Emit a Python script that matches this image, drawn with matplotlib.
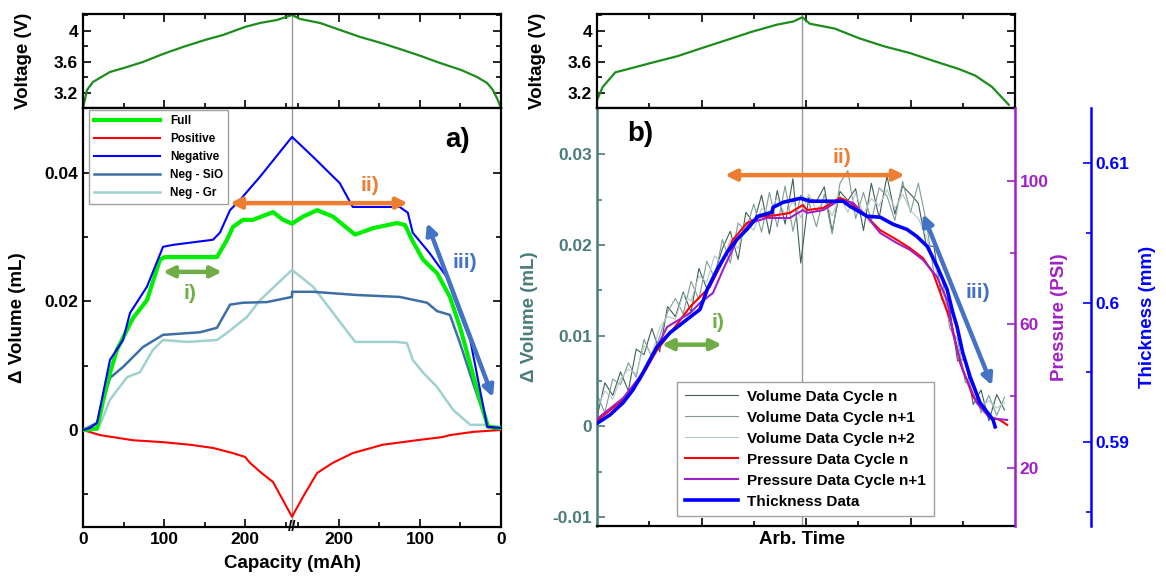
import numpy as np
import matplotlib
matplotlib.use("Agg")
import matplotlib.pyplot as plt
from matplotlib.transforms import blended_transform_factory

plt.rcParams['font.family'] = ['Liberation Sans', 'DejaVu Sans']
plt.rcParams['font.weight'] = 'bold'
plt.rcParams['axes.labelweight'] = 'bold'
plt.rcParams['xtick.direction'] = 'in'
plt.rcParams['ytick.direction'] = 'in'
plt.rcParams['xtick.major.size'] = 5.5
plt.rcParams['ytick.major.size'] = 5.5
plt.rcParams['xtick.minor.size'] = 3.5
plt.rcParams['ytick.minor.size'] = 3.5
plt.rcParams['xtick.major.width'] = 1.2
plt.rcParams['ytick.major.width'] = 1.2
plt.rcParams['xtick.minor.width'] = 1.2
plt.rcParams['ytick.minor.width'] = 1.2
plt.rcParams['axes.linewidth'] = 1.6

# ---------------- data : panel a ----------------
charge_capacity = 258  # mAh at end of charge (break point)
cap_tick_values = [0, 100, 200]

volt_a_t = [0, 5, 12.3, 33.3, 50.6, 74, 98.8, 123.5, 150.6, 172.8, 200, 218.5, 239.5, 258,
            267.9, 292.6, 317.3, 342, 368, 391, 417, 440.7, 466.7, 486.4, 498.8, 506, 512, 516]
volt_a_v = [3.006, 3.239, 3.342, 3.471, 3.523, 3.6, 3.703, 3.794, 3.884, 3.948, 4.052, 4.103, 4.142, 4.206,
            4.155, 4.103, 4.013, 3.923, 3.845, 3.768, 3.677, 3.587, 3.497, 3.406, 3.329, 3.239, 3.110, 3.006]

neg_t = [0, 8.6, 17.3, 33.3, 49.4, 58, 79, 98.8, 111, 160.5, 169, 181.5, 193.8, 218.5, 258,
         284, 317, 333, 391, 401, 407, 428, 449, 465, 478, 499, 516]
neg_v = [0, 0.0003, 0.0011, 0.0109, 0.0140, 0.0182, 0.0223, 0.0285, 0.0288, 0.0296, 0.0307, 0.0342,
         0.0358, 0.0394, 0.0456, 0.0425, 0.0384, 0.0347, 0.0347, 0.0338, 0.0307, 0.0275, 0.0238,
         0.0182, 0.0140, 0.0005, 0.0003]

full_t = [0, 17.3, 29.6, 42, 61.7, 79, 95, 101, 165.4, 177.8, 185.2, 197.5, 209.9, 234.6, 247, 258,
          271.6, 289, 308.6, 335.8, 358, 387.7, 397.5, 406, 419.8, 437, 453, 465.4, 490, 500, 516]
full_v = [0, 0.0002, 0.0073, 0.0125, 0.0174, 0.0202, 0.0265, 0.0269, 0.0269, 0.0296, 0.0316, 0.0327,
          0.0327, 0.0339, 0.0327, 0.0321, 0.0332, 0.0342, 0.0332, 0.0304, 0.0314, 0.0322, 0.0319,
          0.0296, 0.0265, 0.0244, 0.0207, 0.0160, 0.0047, 0.0005, 0.0003]

sio_t = [0, 17.3, 33.3, 49.4, 74, 98.8, 144.4, 165.4, 181.5, 197.5, 227, 258,
         258, 284, 338, 391, 424.7, 437, 453, 465.4, 481.5, 500, 516]
sio_v = [0, 0.0011, 0.0081, 0.0098, 0.0129, 0.0148, 0.0152, 0.0159, 0.0195, 0.0198, 0.0199, 0.0207,
         0.0215, 0.0215, 0.0210, 0.0207, 0.0198, 0.0185, 0.0179, 0.0135, 0.0073, 0.0005, 0.0003]

gr_t = [0, 21, 33.3, 54.3, 70.4, 86.4, 98.8, 128.4, 165.4, 177.8, 202.5, 218.5, 258,
        284, 336, 388, 400, 407, 420, 437, 457, 478, 494, 516]
gr_v = [0, 0.0008, 0.0047, 0.0082, 0.0090, 0.0125, 0.0140, 0.0137, 0.0140, 0.0151, 0.0176, 0.0202,
        0.0249, 0.0223, 0.0137, 0.0137, 0.0135, 0.0109, 0.0089, 0.0067, 0.0031, 0.0008, 0.0008, 0.0003]

pos_t = [0, 21, 61.7, 98.8, 132, 160.5, 185, 200, 206, 218.5, 234.6, 258,
         271.6, 289, 308.6, 333, 370, 412, 444, 453, 481.5, 516]
pos_v = [0, -0.0008, -0.0016, -0.0019, -0.0023, -0.0028, -0.0036, -0.0042, -0.0051, -0.0065, -0.0081,
         -0.0135, -0.0104, -0.0067, -0.0051, -0.0036, -0.0023, -0.0016, -0.0011, -0.0008, -0.0003, 0]

# ---------------- data : panel b ----------------
peak_time = 3.93

volt_b_T = [0.0, 0.11, 0.35, 0.59, 1.06, 1.54, 2.01, 2.49, 2.96, 3.44, 3.76, 3.93, 4.07, 4.55,
            5.02, 5.50, 5.98, 6.45, 6.93, 7.24, 7.56, 7.88]
volt_b_v = [3.11, 3.278, 3.466, 3.508, 3.592, 3.675, 3.78, 3.885, 3.989, 4.081, 4.123, 4.177, 4.094,
            4.031, 3.905, 3.801, 3.717, 3.612, 3.508, 3.424, 3.278, 3.048]

vol_T = np.linspace(0, 7.8, 53)
vol_n = np.array([1.0, 4.8, 3.4, 6.0, 3.9, 8.5, 7.9, 10.8, 8.2, 13.2, 12.1, 14.8, 12.6, 17.4, 15.2,
                  16.8, 19.6, 21.5, 18.4, 23.6, 22.4, 25.5, 21.2, 26.0, 22.3, 27.3, 18.0, 25.2, 24.8,
                  26.4, 21.5, 25.9, 24.9, 26.2, 21.6, 26.8, 23.0, 27.6, 23.4, 26.5, 25.6, 24.6, 20.0,
                  19.8, 14.0, 13.1, 7.2, 7.4, 2.4, 4.0, 0.6, 3.5, 1.8]) / 1000
vol_n1 = np.array([3.5, 1.5, 5.2, 4.6, 7.0, 5.4, 9.6, 7.6, 9.9, 12.6, 14.1, 12.4, 16.0, 14.0, 18.2,
                   16.4, 20.6, 18.0, 22.4, 21.6, 24.5, 21.4, 25.8, 22.0, 26.5, 21.5, 25.5, 24.8, 22.0,
                   25.6, 21.2, 26.8, 28.2, 22.9, 25.8, 22.6, 26.3, 25.4, 22.7, 27.0, 23.6, 26.8, 22.6,
                   16.8, 16.6, 10.8, 9.6, 4.8, 4.9, 1.5, 3.4, 1.2, 3.2]) / 1000
vol_n2 = np.array([2.0, 3.9, 3.0, 5.2, 6.3, 5.8, 8.9, 8.0, 10.9, 12.1, 11.8, 14.6, 13.8, 16.6, 15.9,
                   18.8, 18.0, 20.6, 19.6, 22.5, 21.6, 24.0, 23.6, 25.2, 23.3, 24.8, 23.0, 25.6, 23.8,
                   24.9, 23.2, 25.4, 23.6, 25.7, 23.4, 25.1, 24.3, 26.1, 24.0, 25.6, 23.8, 22.9, 21.0,
                   18.0, 15.0, 11.6, 8.8, 5.6, 4.2, 2.3, 2.8, 2.0, 2.6]) / 1000

pres_n_T = [0.02, 0.50, 0.82, 1.15, 1.45, 1.78, 2.16, 2.35, 2.60, 2.87, 3.12, 3.44, 3.69, 3.94, 4.02,
            4.33, 4.65, 4.84, 5.09, 5.42, 5.74, 5.99, 6.24, 6.43, 6.62, 6.76, 6.81, 6.95, 7.20, 7.52,
            7.71, 7.85]
pres_n = [33.4, 39.0, 44.5, 52.9, 58.5, 64.9, 70.5, 76.0, 83.6, 88.3, 90.0, 90.5, 91.1, 93.3, 91.9,
          92.5, 95.3, 94.1, 91.1, 86.3, 83.6, 81.3, 78.5, 74.4, 66.8, 61.3, 58.5, 49.3, 39.8, 34.2,
          33.4, 32.0]

pres_n1_T = [0.02, 0.50, 0.88, 1.15, 1.34, 1.78, 1.97, 2.22, 2.41, 2.68, 2.93, 3.25, 3.69, 3.94, 4.02,
             4.33, 4.65, 4.90, 5.17, 5.42, 5.74, 5.99, 6.24, 6.51, 6.70, 6.81, 7.00, 7.27, 7.52, 7.85]
pres_n1 = [33.9, 39.5, 46.5, 53.7, 59.3, 63.2, 66.0, 68.8, 75.2, 83.6, 88.3, 89.7, 89.7, 91.9, 91.1,
           91.9, 94.7, 93.9, 90.0, 85.5, 82.7, 80.8, 78.0, 73.2, 66.8, 57.6, 47.3, 38.1, 33.9, 33.4]

thick_T = [0.02, 0.25, 0.50, 0.69, 0.88, 1.15, 1.40, 1.72, 1.97, 2.11, 2.30, 2.49, 2.68, 2.87, 3.08,
           3.35, 3.37, 3.56, 3.89, 4.08, 4.71, 4.84, 5.17, 5.42, 5.67, 5.93, 6.12, 6.32, 6.51, 6.70,
           6.81, 6.89, 7.00, 7.14, 7.33, 7.58, 7.62]
thick = [0.59137, 0.59194, 0.59281, 0.59374, 0.59496, 0.59683, 0.59784, 0.59878, 0.59950, 0.60094,
         0.60237, 0.60360, 0.60453, 0.60525, 0.60619, 0.60647, 0.60683, 0.60719, 0.60748, 0.60727,
         0.60727, 0.60691, 0.60619, 0.60612, 0.60561, 0.60525, 0.60475, 0.60403, 0.60259, 0.60094,
         0.59928, 0.59827, 0.59640, 0.59468, 0.59281, 0.59158, 0.59108]

# ---------------- styles ----------------
C_VOLT = '#1c8c1c'
C_FULL = '#00ee00'
C_POS = '#ff0000'
C_NEG = '#0000ff'
C_SIO = '#3d6fa6'
C_GR = '#9fd1d1'
C_GRAY = '#9a9a9a'
C_VOLAX = '#4a7c79'
C_PRES = '#a020c8'
C_THK = '#0000ff'
C_VN, C_VN1, C_VN2 = '#3f5f5a', '#7f9c97', '#b3c9c5'
C_I, C_II, C_III = '#70ad47', '#ed7d31', '#4472c4'

W, H = 1166, 581
fig = plt.figure(figsize=(W / 100, H / 100), dpi=100)


def rect(l, t, r, b):
    return [l / W, 1 - b / H, (r - l) / W, (b - t) / H]


TL = 12.5   # tick label size
LB = 13.5   # axis label size

# ================= panel a =================
axVa = fig.add_axes(rect(83, 14, 501, 108))
axA = fig.add_axes(rect(83, 108, 501, 527))
tmax = 2 * charge_capacity
cap_pos = cap_tick_values + [tmax - c for c in reversed(cap_tick_values)]
cap_lab = [str(c) for c in cap_tick_values] + [str(c) for c in reversed(cap_tick_values)]
cap_minor = [50, 150, 250, tmax - 250, tmax - 150, tmax - 50]

for ax in (axVa, axA):
    ax.set_xlim(0, tmax)
    ax.set_xticks(cap_pos)
    ax.set_xticks(cap_minor, minor=True)
    ax.axvline(charge_capacity, color=C_GRAY, lw=1.0, zorder=1)

axVa.plot(volt_a_t, volt_a_v, color=C_VOLT, lw=1.6)
axVa.set_ylim(3.006, 4.219)
axVa.set_yticks([3.2, 3.6, 4.0])
axVa.set_yticklabels(['3.2', '3.6', '4'])
axVa.set_yticks([3.4, 3.8, 4.2], minor=True)
axVa.tick_params(which='both', top=True, right=True, labelbottom=False, labelsize=TL)
axVa.set_ylabel('Voltage (V)', fontsize=LB)
axVa.yaxis.set_label_coords(-0.122, 0.5)

l_gr, = axA.plot(gr_t, gr_v, color=C_GR, lw=1.8, label='Neg - Gr', zorder=2)
l_sio, = axA.plot(sio_t, sio_v, color=C_SIO, lw=1.8, label='Neg - SiO', zorder=2)
l_pos, = axA.plot(pos_t, pos_v, color=C_POS, lw=1.5, label='Positive', zorder=3)
l_full, = axA.plot(full_t, full_v, color=C_FULL, lw=3.0, label='Full', zorder=3)
l_neg, = axA.plot(neg_t, neg_v, color=C_NEG, lw=1.5, label='Negative', zorder=4)
axA.set_ylim(-0.0151, 0.0501)
axA.set_yticks([0, 0.02, 0.04])
axA.set_yticklabels(['0', '0.02', '0.04'])
axA.set_yticks([-0.01, 0.01, 0.03], minor=True)
axA.set_xticklabels(cap_lab)
axA.tick_params(which='both', right=True, top=False, labelsize=TL)
axA.set_xlabel('Capacity (mAh)', fontsize=LB)
axA.xaxis.set_label_coords(0.5, -0.068)
axA.set_ylabel('\u0394 Volume (mL)', fontsize=LB)
axA.yaxis.set_label_coords(-0.136, 0.5)
brk = blended_transform_factory(axA.transData, axA.transAxes)
axA.text(charge_capacity, 0.0, '//', transform=brk, ha='center', va='center', fontsize=11,
         fontweight='bold', zorder=6)

hA = [l_full, l_pos, l_neg, l_sio, l_gr]
legA = axA.legend(hA, [l.get_label() for l in hA], loc='upper left',
                  bbox_to_anchor=(89 / W, 1 - 110 / H), bbox_transform=fig.transFigure,
                  fontsize=8.5, handlelength=5.6, labelspacing=0.5, borderpad=0.45,
                  borderaxespad=0, fancybox=False, framealpha=1, edgecolor='#a0a0a0')
legA.get_frame().set_linewidth(1.0)

axA.text(462, 0.0451, 'a)', fontsize=20, fontweight='bold', ha='center', va='center')

arrow_kw = dict(arrowstyle='<|-|>', lw=3.2, mutation_scale=16, shrinkA=0, shrinkB=0)
axA.annotate('', xy=(171.6, 0.0246), xytext=(98.8, 0.0246),
             arrowprops=dict(color=C_I, **arrow_kw), zorder=5)
axA.text(132, 0.0213, 'i)', color=C_I, fontsize=15, ha='center', va='center')
axA.annotate('', xy=(401, 0.0353), xytext=(181.5, 0.0353),
             arrowprops=dict(color=C_II, **arrow_kw), zorder=5)
axA.text(354, 0.0381, 'ii)', color=C_II, fontsize=15, ha='center', va='center')
axA.annotate('', xy=(506, 0.0051), xytext=(424.7, 0.0322),
             arrowprops=dict(color=C_III, **arrow_kw), zorder=5)
axA.text(471.6, 0.026, 'iii)', color=C_III, fontsize=15, ha='center', va='center')

# ================= panel b =================
axVb = fig.add_axes(rect(597, 14, 1015, 108))
axB = fig.add_axes(rect(597, 108, 1015, 526))
for ax in (axVb, axB):
    ax.set_xlim(0, 8)
    ax.set_xticks([2, 4, 6])
    ax.set_xticks([1, 3, 5, 7], minor=True)
    ax.axvline(peak_time, color=C_GRAY, lw=1.0, zorder=1)

axVb.plot(volt_b_T, volt_b_v, color=C_VOLT, lw=1.6)
axVb.set_ylim(3.006, 4.219)
axVb.set_yticks([3.2, 3.6, 4.0])
axVb.set_yticklabels(['3.2', '3.6', '4'])
axVb.set_yticks([3.4, 3.8, 4.2], minor=True)
axVb.tick_params(which='both', top=True, right=True, labelbottom=False, labelsize=TL)
axVb.set_ylabel('Voltage (V)', fontsize=LB)
axVb.yaxis.set_label_coords(-0.122, 0.5)

l_vn, = axB.plot(vol_T, vol_n, color=C_VN, lw=0.8, label='Volume Data Cycle n')
l_vn1, = axB.plot(vol_T, vol_n1, color=C_VN1, lw=0.8, label='Volume Data Cycle n+1')
l_vn2, = axB.plot(vol_T, vol_n2, color=C_VN2, lw=0.8, label='Volume Data Cycle n+2')
axB.set_ylim(-0.011, 0.0351)
axB.set_yticks([-0.01, 0, 0.01, 0.02, 0.03])
axB.set_yticklabels(['-0.01', '0', '0.01', '0.02', '0.03'])
axB.set_yticks([-0.005, 0.005, 0.015, 0.025], minor=True)
axB.tick_params(axis='y', which='both', colors=C_VOLAX, labelsize=TL)
axB.tick_params(axis='x', which='both', labelbottom=False, bottom=True)
axB.spines['left'].set_color(C_VOLAX)
axB.spines['left'].set_linewidth(1.8)
axB.spines['right'].set_visible(False)
axB.set_ylabel('\u0394 Volume (mL)', fontsize=LB, color=C_VOLAX)
axB.yaxis.set_label_coords(-0.14, 0.5)
axB.set_xlabel('Arb. Time', fontsize=LB)
axB.xaxis.set_label_coords(0.49, -0.012)

axP = axB.twinx()
l_pn, = axP.plot(pres_n_T, pres_n, color='#ff0000', lw=1.5, label='Pressure Data Cycle n')
l_pn1, = axP.plot(pres_n1_T, pres_n1, color=C_PRES, lw=1.5, label='Pressure Data Cycle n+1')
axP.set_ylim(3.83, 120.35)
axP.set_yticks([20, 60, 100])
axP.set_yticks([40, 80], minor=True)
axP.tick_params(axis='y', which='both', colors=C_PRES, labelsize=TL)
for s in ('left', 'top', 'bottom'):
    axP.spines[s].set_visible(False)
axP.spines['right'].set_color(C_PRES)
axP.spines['right'].set_linewidth(1.8)
axP.set_ylabel('Pressure (PSI)', fontsize=LB, color=C_PRES)
axP.yaxis.set_label_coords(1.087, 0.5)

axT = axB.twinx()
axT.spines['right'].set_position(('axes', (1091 - 597) / 418))
l_th, = axT.plot(thick_T, thick, color=C_THK, lw=2.6, label='Thickness Data')
axT.set_ylim(0.58396, 0.61396)
axT.set_yticks([0.59, 0.60, 0.61])
axT.set_yticklabels(['0.59', '0.6', '0.61'])
axT.set_yticks([0.585, 0.595, 0.605], minor=True)
axT.tick_params(axis='y', which='both', colors=C_THK, labelsize=TL)
for s in ('left', 'top', 'bottom'):
    axT.spines[s].set_visible(False)
axT.spines['right'].set_color(C_THK)
axT.spines['right'].set_linewidth(1.8)
axT.set_ylabel('Thickness (mm)', fontsize=LB, color=C_THK)
axT.yaxis.set_label_coords(1.297, 0.5)

hB = [l_vn, l_vn1, l_vn2, l_pn, l_pn1, l_th]
legB = axT.legend(hB, [l.get_label() for l in hB], loc='upper left',
                  bbox_to_anchor=(677 / W, 1 - 382 / H), bbox_transform=fig.transFigure,
                  fontsize=11, handlelength=3.5, labelspacing=0.46, borderpad=0.5,
                  handletextpad=0.6, borderaxespad=0, fancybox=False, framealpha=1,
                  edgecolor='#a0a0a0')
legB.get_frame().set_linewidth(1.0)

axB.text(0.82, 0.0322, 'b)', fontsize=20, fontweight='bold', ha='center', va='center')
axB.annotate('', xy=(2.39, 0.009), xytext=(1.24, 0.009),
             arrowprops=dict(color=C_I, **arrow_kw), zorder=5)
axB.text(2.32, 0.0114, 'i)', color=C_I, fontsize=15, ha='center', va='center')
axB.annotate('', xy=(5.89, 0.0277), xytext=(2.45, 0.0277),
             arrowprops=dict(color=C_II, **arrow_kw), zorder=5)
axB.text(4.69, 0.0296, 'ii)', color=C_II, fontsize=15, ha='center', va='center')
axB.annotate('', xy=(7.56, 0.0045), xytext=(6.24, 0.0234),
             arrowprops=dict(color=C_III, **arrow_kw), zorder=5)
axB.text(7.29, 0.0147, 'iii)', color=C_III, fontsize=15, ha='center', va='center')

fig.savefig('out.png', dpi=100)
